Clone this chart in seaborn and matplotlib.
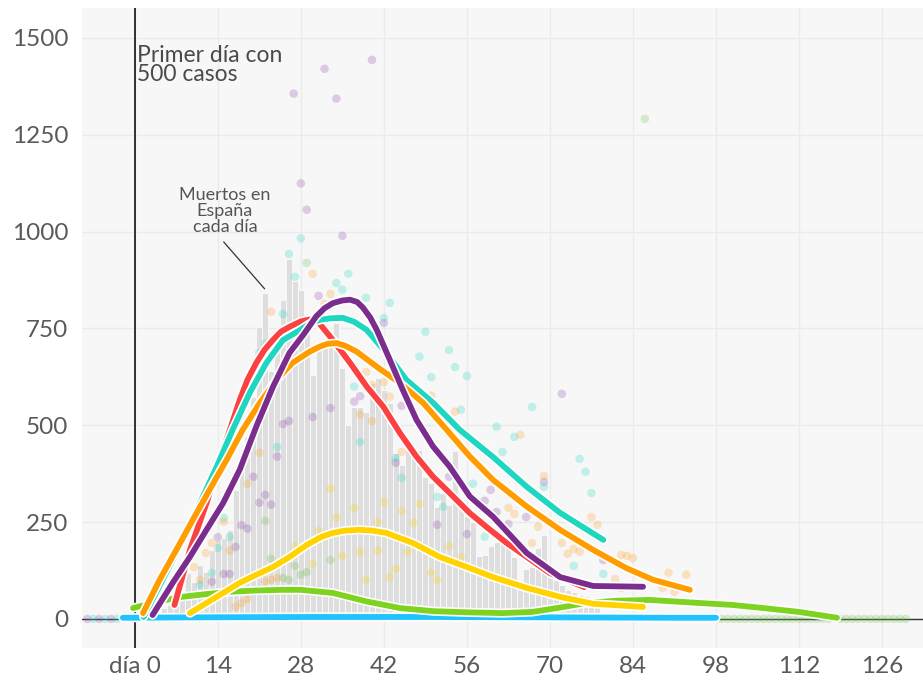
import matplotlib
matplotlib.use('Agg')
import matplotlib.pyplot as plt
import matplotlib.patheffects as pe
import seaborn as sns

# Muertos en España cada día (día 0 = primer día con 500 casos)
spain_days = list(range(0, 79))
spain_deaths = [3, 5, 8, 10, 17, 28, 35, 54, 70, 118,
                95, 139, 120, 178, 204, 210, 230, 333, 390, 470,
                574, 754, 842, 640, 700, 822, 929, 873, 848, 760,
                630, 700, 720, 705, 764, 648, 500, 548, 548, 534,
                609, 622, 592, 557, 428, 398, 454, 445, 437, 367,
                350, 290, 325, 295, 434, 300, 265, 250, 163, 165,
                187, 199, 217, 187, 160, 90, 130, 134, 183, 217,
                118, 101, 88, 75, 70, 62, 58, 50, 45]

# curvas suavizadas por país
red_days = [6.7, 9.3, 12.1, 14.9, 17.7, 19, 20.5, 21.9, 23.3, 24.7, 26.1, 28, 29.5, 31,
            33.4, 36.3, 39.1, 41.9, 44.7, 47.5, 50.3, 53.1, 56.5, 59.5, 62.7, 66.1, 70, 75.8]
red_vals = [36, 178, 299, 436, 565, 617, 661, 695, 720, 742, 754, 768, 773, 765,
            720, 661, 600, 548, 480, 419, 367, 325, 273, 235, 196, 160, 118, 82]

purple_days = [3, 6.4, 9.3, 12.1, 14.9, 17.7, 20.5, 23.3, 26.1, 28.5, 30.6, 32, 33.4, 35,
               36.3, 37.5, 38.5, 39.7, 40.8, 43, 45.2, 47.5, 50.3, 53.1, 56.5, 60.4, 66.1,
               71.7, 77.3, 85.7]
purple_vals = [10, 93, 160, 230, 299, 385, 497, 599, 687, 735, 781, 802, 815, 822,
               824, 818, 803, 778, 746, 669, 591, 514, 445, 393, 316, 264, 170,
               108, 85, 83]

teal_days = [1.5, 5.3, 8.1, 11, 13.8, 16.5, 19.4, 22.2, 25, 27.8, 29.5, 31.2, 33, 35.1,
             37, 39.1, 42.4, 45.8, 50.3, 54.8, 60.4, 66.1, 71.7, 79]
teal_vals = [5, 119, 204, 299, 392, 488, 584, 661, 720, 745, 762, 772, 776, 777,
             767, 746, 687, 617, 558, 488, 418, 341, 274, 204]

orange_days = [1.4, 4.2, 7, 9.8, 12.6, 15.5, 18.2, 21.1, 23.9, 26.6, 29.5, 31.2, 32.5, 34,
               35.5, 37.4, 40.8, 44.7, 48.6, 52.6, 56.5, 60.4, 66.1, 71.7, 77.3, 82.9, 87.4, 93.6]
orange_vals = [15, 101, 178, 256, 333, 411, 488, 558, 617, 661, 690, 703, 710, 712,
               705, 690, 651, 609, 558, 488, 419, 359, 290, 230, 178, 131, 101, 75]

yellow_days = [9.3, 12.1, 14.9, 17.7, 20.5, 23.3, 26.1, 29, 31.5, 33.4, 35.5, 37.9, 40,
               42.4, 46.9, 51.4, 56, 60.4, 66.1, 71.7, 77.3, 85.7]
yellow_vals = [15, 41, 67, 93, 114, 134, 160, 191, 212, 222, 228, 230, 228,
               222, 196, 160, 134, 108, 80, 57, 39, 31]

green_days = [-0.3, 4, 8, 12, 16, 20, 24.5, 28, 33.4, 39.1, 44.7, 50.3, 56, 62,
              67, 72, 76, 81.3, 86.8, 95.3, 100.8, 106, 112, 118.4]
green_vals = [28, 45, 57, 64, 70, 73, 75, 75, 67, 45, 28, 20, 17, 15,
              18, 30, 41, 47, 49, 41, 36, 28, 18, 3]

blue_days = [-2, 10, 30, 50, 70, 90, 98]
blue_vals = [3, 4, 5, 5, 4, 3, 3]

# puntos diarios por país
purple_pt_days = [26.8, 32, 34, 40, 28, 29, 35, 31, 42, 25, 26, 24, 20, 22, 21, 23, 18, 19,
                  14, 17, 15, 16, 13, 38, 37, 33, 30, 45, 44, 51, 56, 53, 72, 69, 60, 59,
                  61, 66, 63, 79, -8, -6, -4]
purple_pt_vals = [1356, 1420, 1343, 1443, 1124, 1056, 989, 834, 764, 503, 511, 419, 367, 320,
                  300, 295, 242, 233, 211, 186, 116, 116, 96, 575, 561, 544, 521, 550, 403,
                  243, 219, 367, 581, 354, 333, 305, 276, 263, 245, 152, 0, 0, 0]

teal_pt_days = [28, 26, 27, 36, 34, 35, 39, 43, 42, 49, 53, 48, 25, 22, 21, 24, 15, 16, 14,
                13, 11, 37, 38, 44, 45, 51, 52, 54, 50, 56, 55, 67, 61, 64, 62, 75, 76, 77,
                69, 74, 79, 59, 57, -7, -5, -3]
teal_pt_vals = [982, 942, 883, 891, 867, 850, 829, 816, 777, 741, 694, 677, 787, 710, 687,
                444, 261, 212, 183, 119, 88, 600, 457, 415, 364, 315, 289, 650, 624, 627,
                540, 547, 496, 470, 431, 413, 380, 325, 341, 137, 116, 212, 349, 0, 0, 0]

orange_pt_days = [30, 33, 32, 23, 21, 19, 15, 13, 12, 16, 10, 11, 19, 18, 17, 22, 23, 24,
                  54, 50, 39, 40, 42, 43, 38, 40, 45, 65, 69, 77, 78, 63, 64, 68, 67, 72,
                  73, 74, 75, 82, 83, 84, 81, 82, 90, 93, 89, 91]
orange_pt_vals = [891, 839, 813, 793, 429, 349, 251, 196, 170, 176, 134, 101, 52, 41, 31,
                  96, 101, 106, 535, 576, 637, 604, 611, 574, 527, 511, 431, 475, 369, 263,
                  243, 287, 271, 238, 196, 196, 168, 181, 173, 165, 163, 157, 103, 80,
                  119, 114, 80, 70]

yellow_pt_days = [27, 33, 37, 34, 31, 30, 35, 38, 39, 41, 42, 45, 47, 46, 44, 43, 48, 50,
                  51, 53, 55, 41]
yellow_pt_vals = [188, 336, 287, 261, 227, 142, 163, 173, 101, 250, 302, 279, 248, 173,
                  129, 108, 297, 119, 101, 188, 160, 176]

green_pt_days = [29, 22, 23, 27, 28, 29, 25, 26, 33, 86] + list(range(99, 118)) + list(range(119, 131))
green_pt_vals = [919, 253, 155, 137, 114, 121, 106, 101, 152, 1291] + [0] * 19 + [0] * 12

tick_days = [0, 14, 28, 42, 56, 70, 84, 98, 112, 126]
tick_labels = ['día 0', '14', '28', '42', '56', '70', '84', '98', '112', '126']
y_ticks = [0, 250, 500, 750, 1000, 1250, 1500]

sns.set_style('whitegrid', {'axes.facecolor': '#f7f7f7', 'grid.color': '#ebebeb',
                            'axes.edgecolor': 'none'})
plt.rcParams['font.family'] = ['Lato', 'DejaVu Sans']

fig = plt.figure(figsize=(9.23, 6.82), dpi=100)
ax = fig.add_axes([0.0888, 0.0499, 0.9112, 0.9384])

sns.barplot(x=spain_days, y=spain_deaths, native_scale=True, color='#dedede',
            saturation=1, edgecolor='white', linewidth=0.5, width=1, ax=ax, zorder=1)

ax.axhline(0, color='#333333', lw=1, zorder=1.5)
ax.axvline(0, color='#222222', lw=1.3, zorder=1.5)

dots = [
    (purple_pt_days, purple_pt_vals, '#8e44ad'),
    (teal_pt_days, teal_pt_vals, '#1fd6c1'),
    (orange_pt_days, orange_pt_vals, '#ff9d1c'),
    (yellow_pt_days, yellow_pt_vals, '#ffd000'),
    (green_pt_days, green_pt_vals, '#6cc04a'),
]
for xs, ys, c in dots:
    sns.scatterplot(x=xs, y=ys, color=c, alpha=0.25, s=38, edgecolor='none',
                    ax=ax, zorder=2)

outline = [pe.Stroke(linewidth=6.6, foreground='white'), pe.Normal()]
series = [
    (blue_days, blue_vals, '#1ec3ff'),
    (green_days, green_vals, '#7ed321'),
    (yellow_days, yellow_vals, '#ffd300'),
    (red_days, red_vals, '#fb4141'),
    (teal_days, teal_vals, '#1fd6c1'),
    (orange_days, orange_vals, '#ff9d00'),
    (purple_days, purple_vals, '#7b2d8e'),
]
for xs, ys, c in series:
    sns.lineplot(x=xs, y=ys, color=c, lw=4.2, sort=False, estimator=None, ax=ax,
                 path_effects=outline, solid_capstyle='round', solid_joinstyle='round',
                 zorder=3)

ax.text(0.3, 1482, 'Primer día con\n500 casos', ha='left', va='top', fontsize=16.5,
        color='#4a4a4a', linespacing=0.9, zorder=4)
ax.text(15.2, 990, 'Muertos en\nEspaña\ncada día', ha='center', va='bottom', fontsize=13,
        color='#555555', linespacing=1.0, zorder=4)
ax.plot([15.0, 21.9], [973, 852], color='#333333', lw=0.9, zorder=4)

ax.set_xlim(-8.9, 132.9)
ax.set_ylim(-75, 1577)
ax.set_xticks(tick_days)
ax.set_xticklabels(tick_labels)
ax.set_yticks(y_ticks)
ax.set_xlabel('')
ax.set_ylabel('')
ax.tick_params(axis='both', length=0, labelsize=17.5, colors='#5a5a5a')
ax.tick_params(axis='y', pad=10)
ax.tick_params(axis='x', pad=6)
ax.grid(True, color='#ebebeb', lw=1)
ax.set_axisbelow(True)
for s in ax.spines.values():
    s.set_visible(False)
if ax.get_legend():
    ax.get_legend().remove()

fig.savefig('out.png', dpi=100)
